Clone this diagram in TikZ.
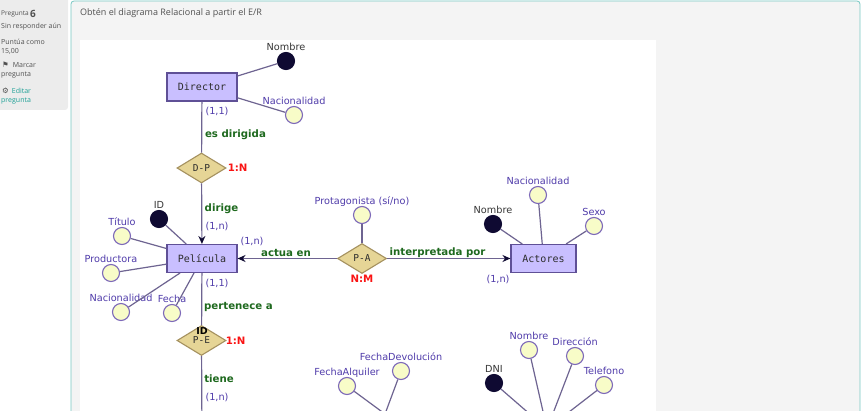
\documentclass[tikz,border=0pt]{standalone}
\usepackage{fontspec}
\setmainfont{DejaVu Sans}
\newfontfamily\erMono{DejaVu Sans Mono}
\newfontfamily\uiFont{Open Sans}
\usetikzlibrary{arrows.meta,shapes.geometric,positioning}

\definecolor{sideFill}{RGB}{236,236,236}
\definecolor{panelFill}{RGB}{244,244,244}
\definecolor{panelLine}{RGB}{120,200,195}
\definecolor{uiText}{RGB}{80,80,80}
\definecolor{uiTeal}{RGB}{30,160,150}
\definecolor{entFill}{RGB}{201,191,255}
\definecolor{entLine}{RGB}{95,80,150}
\definecolor{relFill}{RGB}{230,213,150}
\definecolor{relLine}{RGB}{165,145,95}
\definecolor{attFill}{RGB}{248,252,200}
\definecolor{attLine}{RGB}{125,105,185}
\definecolor{keyFill}{RGB}{15,10,50}
\definecolor{linkGray}{RGB}{110,100,145}
\definecolor{erText}{RGB}{45,45,45}
\definecolor{cardText}{RGB}{80,60,170}
\definecolor{keyText}{RGB}{55,55,55}
\definecolor{roleGreen}{RGB}{30,105,30}
\definecolor{ratioRed}{RGB}{250,20,20}

\begin{document}
\begin{tikzpicture}[x=1pt,y=-1pt,
  ui/.style={font=\uiFont\fontsize{7}{8}\selectfont,text=uiText,anchor=west,inner sep=0pt},
  entity/.style={draw=entLine,fill=entFill,line width=1.1pt,minimum width=70pt,minimum height=28pt,inner sep=0pt,font=\erMono\fontsize{10}{11}\selectfont,text=erText},
  relation/.style={diamond,draw=relLine,fill=relFill,line width=1.1pt,minimum width=49pt,minimum height=30pt,inner sep=0pt,font=\erMono\fontsize{9.5}{10}\selectfont,text=erText},
  attr/.style={circle,draw=attLine,fill=attFill,line width=1.1pt,minimum size=17pt,inner sep=0pt,label distance=0pt},
  keyattr/.style={attr,draw=keyFill,fill=keyFill},
  lbl/.style={font=\fontsize{9.7}{11}\selectfont,text=cardText,inner sep=1pt,text depth=0pt},
  keylbl/.style={lbl,text=keyText},
  card/.style={font=\fontsize{9.7}{11}\selectfont,text=cardText,inner sep=1pt},
  role/.style={font=\bfseries\fontsize{10.2}{11}\selectfont,text=roleGreen,inner sep=1pt},
  ratio/.style={font=\bfseries\fontsize{10.2}{11}\selectfont,text=ratioRed,inner sep=1pt},
  link/.style={draw=linkGray,line width=1.2pt},
  tolink/.style={link,-{Stealth[length=8pt,width=7pt,color=keyFill]}}
]
\useasboundingbox (0,0) rectangle (866,411);
\clip (0,0) rectangle (866,411);

% Sidebar
\fill[sideFill,rounded corners=3pt] (-4,-4) rectangle (68,110);
\node[ui] (qWord) at (1,14) {\fontsize{6.5}{7}\selectfont Pregunta};
\node[ui,right=1pt of qWord,font=\uiFont\bfseries\fontsize{10}{11}\selectfont] (qNum) {6};
\node[ui] (qState) at (1,27) {Sin responder aún};
\node[ui] (qMark) at (1,42) {Puntúa como};
\node[ui] (qMarkVal) at (1,51) {15,00};
\node[ui] (qFlag) at (2,65) {{\fontsize{7.5}{8}\selectfont\rmfamily ⚑}\hspace{4pt}Marcar};
\node[ui] (qFlag2) at (1,75) {pregunta};
\node[ui] (qEdit) at (2,91) {{\fontsize{7.5}{8}\selectfont\rmfamily ⚙}\hspace{3pt}\textcolor{uiTeal}{Editar}};
\node[ui,text=uiTeal] (qEdit2) at (1,101) {pregunta};

% Panel
\draw[panelLine,fill=panelFill,rounded corners=3pt,line width=0.8pt] (71,1) rectangle (860,430);
\node[ui,font=\uiFont\fontsize{9}{10}\selectfont] (qText) at (80,13) {Obtén el diagrama Relacional a partir el E/R};
\fill[white] (80,40) rectangle (656,420);

\begin{scope}
\clip (80,40) rectangle (656,411);

% Entities
\node[entity] (director) at (202,87) {Director};
\node[entity] (pelicula) at (202,258.5) {Película};
\node[entity,minimum width=65pt] (actores) at (543.5,258.5) {Actores};

% Relations
\node[relation] (dp) at (201.5,168) {D-P};
\node[relation] (pa) at (362,258.5) {P-A};
\node[relation] (pe) at (201.5,340.5) {P-E};
\node[font=\bfseries\fontsize{9.5}{11}\selectfont,text=black,inner sep=0pt] (peId) at (202,331) {ID};

\node[ratio,right=0pt of dp] (dpRatio) {1:N};
\node[ratio,below=0pt of pa] (paRatio) {N:M};
\node[ratio,right=-2pt of pe] (peRatio) {1:N};

% Hidden ends
\coordinate (peHub) at (202,440);
\coordinate (alqHub) at (385,414);
\coordinate (cliHub) at (547,429);

% Attributes
\node[keyattr,label={[keylbl]above:Nombre}] (dirNombre) at (286,61) {};
\node[attr,label={[lbl]above:Nacionalidad}] (dirNac) at (294,115) {};

\node[keyattr,label={[keylbl]above:ID}] (pelId) at (159,219) {};
\node[attr,label={[lbl]above:Título}] (pelTitulo) at (122,236) {};
\node[attr,label={[lbl]above:Productora}] (pelProd) at (111,273) {};
\node[attr,label={[lbl]above:Nacionalidad}] (pelNac) at (121,312) {};
\node[attr,label={[lbl]above:Fecha}] (pelFecha) at (172,313) {};

\node[attr,label={[lbl]above:Protagonista (sí/no)}] (paProt) at (362,215) {};

\node[keyattr,label={[keylbl]above:Nombre}] (actNombre) at (493,224) {};
\node[attr,label={[lbl]above:Nacionalidad}] (actNac) at (538,195) {};
\node[attr,label={[lbl]above:Sexo}] (actSexo) at (594,226) {};

\node[attr,label={[lbl]above:FechaAlquiler}] (alqFecha) at (347,386) {};
\node[attr,label={[lbl]above:FechaDevolución}] (alqDev) at (401,371) {};

\node[keyattr,label={[keylbl]above:DNI}] (cliDni) at (494,383) {};
\node[attr,label={[lbl]above:Nombre}] (cliNombre) at (529,350) {};
\node[attr,label={[lbl]above:Dirección}] (cliDir) at (575,356) {};
\node[attr,label={[lbl]above:Telefono}] (cliTel) at (604,385) {};

% Attribute links
\draw[link] (dirNombre) -- (director);
\draw[link] (dirNac) -- (director);
\draw[link] (pelId) -- (pelicula);
\draw[link] (pelTitulo) -- (pelicula);
\draw[link] (pelProd) -- (pelicula);
\draw[link] (pelNac) -- (pelicula);
\draw[link] (pelFecha) -- (pelicula);
\draw[link] (paProt) -- (pa);
\draw[link] (actNombre) -- (actores);
\draw[link] (actNac) -- (actores);
\draw[link] (actSexo) -- (actores);
\draw[link] (alqFecha) -- (alqHub);
\draw[link] (alqDev) -- (alqHub);
\draw[link] (cliDni) -- (cliHub);
\draw[link] (cliNombre) -- (cliHub);
\draw[link] (cliDir) -- (cliHub);
\draw[link] (cliTel) -- (cliHub);

% Relation links
\draw[link] (director) -- (dp);
\draw[tolink] (dp) -- (pelicula);
\draw[tolink] (pa) -- (pelicula);
\draw[tolink] (pa) -- (actores);
\draw[link] (pelicula) -- (pe);
\draw[link] (pe) -- (peHub);

% Roles and cardinalities
\node[card] (cDir) at (217,111) {(1,1)};
\node[role] (rDir) at (235.5,134.5) {es dirigida};
\node[role] (rPel) at (221.5,209) {dirige};
\node[card] (cPel) at (217,226) {(1,n)};
\node[card] (cPelPa) at (252,241) {(1,n)};
\node[role] (rAct) at (286,253) {actua en};
\node[role] (rInt) at (437.5,253) {interpretada por};
\node[card] (cAct) at (498,279) {(1,n)};
\node[card] (cPelPe) at (217,283) {(1,1)};
\node[role] (rPert) at (238.5,307) {pertenece a};
\node[role] (rTiene) at (219,379) {tiene};
\node[card] (cTiene) at (217,397) {(1,n)};
\end{scope}

\end{tikzpicture}
\end{document}
